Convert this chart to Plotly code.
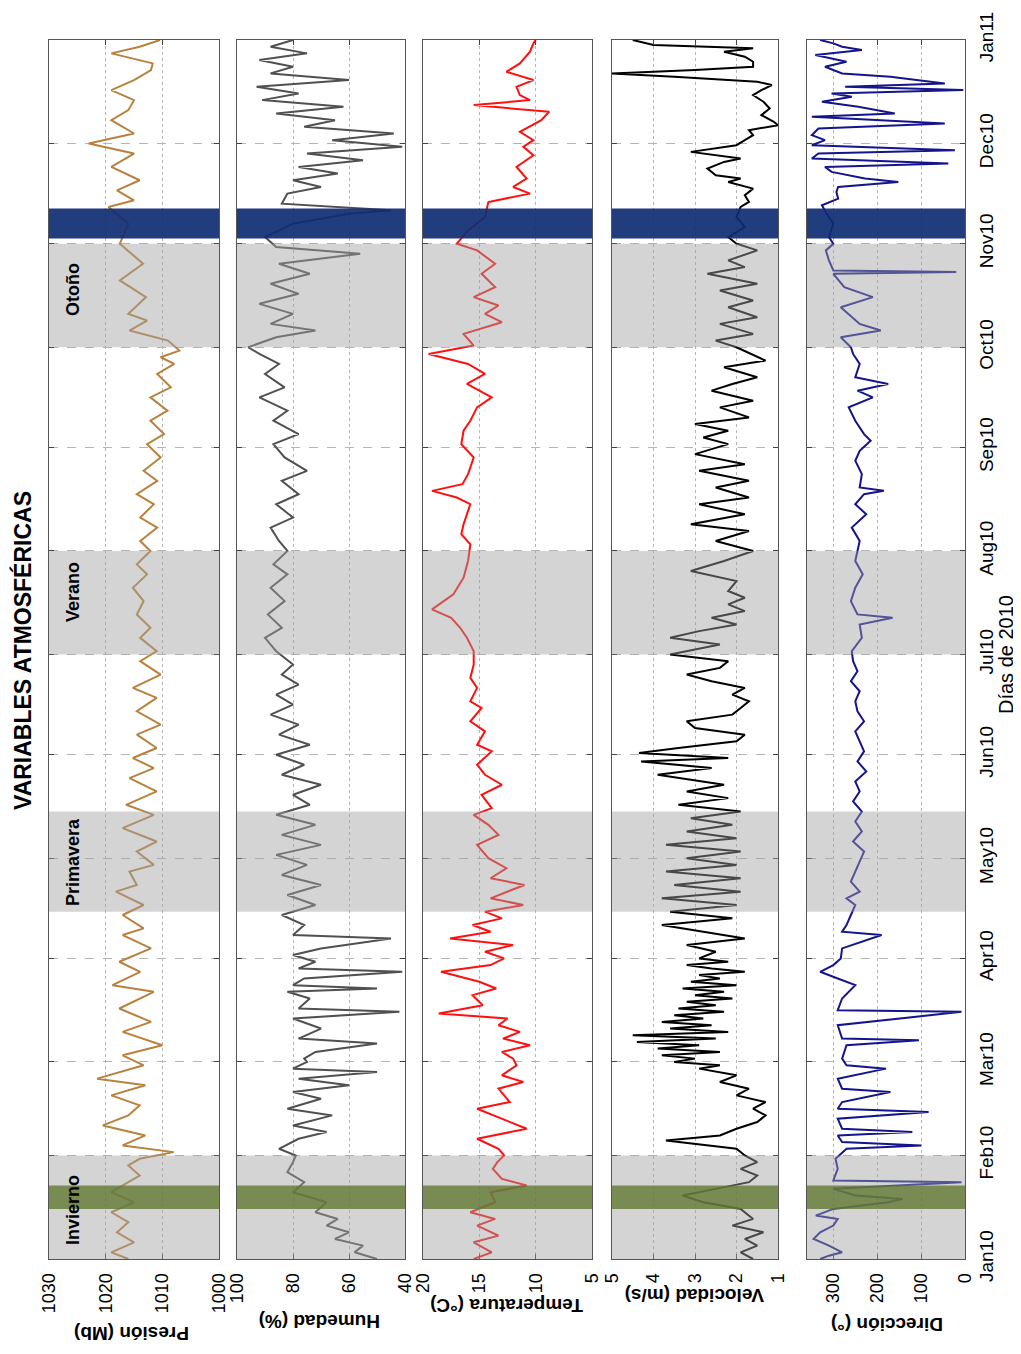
import plotly.graph_objects as go
import pandas as pd

# ---------------- data: day of year 2010 -> value ----------------
pres_days = ([0, 2, 5, 8, 11, 14, 17, 20, 23, 25, 28, 30] +
             [32, 34, 37, 40, 43, 46, 49, 52, 54, 58] +
             [61, 64, 68, 71, 75, 80, 82, 86, 89] +
             [93, 97, 99, 103, 106, 110, 112, 116, 118] +
             [122, 125, 129, 133, 136, 140, 144, 147, 150] +
             [153, 157, 160, 164, 168, 171, 175, 179] +
             [182, 186, 189, 193, 197, 201, 205, 208] +
             [212, 215, 219, 222, 226, 229, 233, 236, 240] +
             [244, 247, 251, 254, 258, 261, 265, 268, 270, 272] +
             [275, 278, 281, 283, 288, 293, 298] +
             [304, 310, 315, 317, 320, 323, 327, 331] +
             [334, 337, 341, 344, 347, 350, 353, 356, 358, 361, 363, 365])
pres_vals = ([1016, 1019, 1015, 1018, 1016, 1019, 1015, 1019, 1016, 1014, 1016, 1014] +
             [1008, 1017, 1013, 1020.5, 1016, 1014, 1019, 1013, 1021.5, 1013.3] +
             [1017, 1010, 1017, 1012, 1017.6, 1011.5, 1018.8, 1013.9, 1017.6] +
             [1012, 1017, 1013.3, 1017, 1013.3, 1018.2, 1014.5, 1015.8, 1011.5] +
             [1014.5, 1011, 1017, 1011.5, 1016.4, 1011, 1015.8, 1011.5, 1015.2] +
             [1011, 1014.5, 1010.3, 1014.5, 1011, 1015.2, 1010.3, 1013.9] +
             [1011, 1013.9, 1012.1, 1014.5, 1013.3, 1015.2, 1012.7, 1014.5] +
             [1012.1, 1013.9, 1010.9, 1013.9, 1011.5, 1014.5, 1010.9, 1013.3, 1010.3] +
             [1012.7, 1009.7, 1012.1, 1009.1, 1012.1, 1008.5, 1010.9, 1007.9, 1010.3, 1007] +
             [1009, 1015.8, 1012.7, 1016, 1012.9, 1017.5, 1013.4] +
             [1017.5, 1016, 1019.5, 1015, 1018, 1014, 1019, 1015] +
             [1023, 1015, 1019, 1016, 1015, 1019, 1015, 1012, 1011.7, 1019, 1014, 1010.4])

hum_days = ([0, 2, 4, 6, 8, 10, 12, 14, 17, 20, 23, 26, 29, 31] +
            [33, 36, 38, 40, 43, 45, 48, 50, 52, 54, 56, 57, 59] +
            [60, 62, 64.5, 66, 69, 72, 74, 75, 78, 80, 81, 82, 84, 86, 87, 89] +
            [91, 93, 96, 97, 100, 103, 106, 109, 112, 115, 118] +
            [121, 124, 127, 130, 133, 136, 139, 142, 145, 148] +
            [151, 154, 157, 160, 163, 166, 169, 172, 175, 178] +
            [182, 186, 189, 193, 197, 201, 205, 208] +
            [212, 215, 219, 222, 226, 229, 233, 236, 240] +
            [244, 247, 251, 254, 258, 261, 265, 268, 271] +
            [273, 276, 278, 280, 283, 286, 289, 292, 295, 298, 301, 303] +
            [306, 310, 313, 314, 316, 319, 321, 323, 325, 327, 329, 331, 333] +
            [335, 337, 339, 341, 343, 345, 347, 349, 351, 353, 355, 357, 359, 361, 363, 365])
hum_vals = ([50, 58, 55, 65, 60, 68, 64, 72, 68, 80, 76, 82, 80, 79] +
            [85, 78, 68, 80, 66, 82, 70, 80, 60, 78, 50, 80, 75] +
            [76, 72, 50, 78, 70, 80, 42, 78, 74, 82, 50, 80, 76, 41, 78, 72] +
            [80, 70, 45, 80, 76, 84, 72, 82, 70, 84, 75] +
            [86, 70, 84, 72, 86, 74, 80, 70, 84, 76] +
            [86, 74, 85, 78, 88, 80, 86, 78, 84, 80] +
            [86, 90, 84, 89, 83, 88, 82, 87] +
            [82, 85, 88, 80, 86, 78, 84, 75, 83] +
            [87, 78, 87, 82, 92, 83, 90, 85, 92] +
            [96, 86, 72, 88, 80, 92, 78, 88, 74, 85, 56, 86] +
            [90, 80, 60, 45, 84, 82, 70, 80, 64, 78, 55, 75, 41] +
            [66, 44, 76, 65, 86, 62, 91, 78, 93, 60, 88, 80, 92, 75, 88, 80])

temp_days = ([0, 2, 5, 7, 10, 12, 14, 17, 20, 22, 24, 27, 29, 31] +
             [33, 36, 39, 42, 45, 47, 51, 53, 55, 58] +
             [60, 62, 64, 66, 68, 70, 72, 73.5, 76, 79, 81, 83, 86, 88] +
             [90, 92, 94, 96, 98, 100, 102, 104, 106, 108, 110, 112, 114, 117] +
             [120, 124, 127, 130, 133, 135, 139, 142, 145, 148] +
             [152, 154, 158, 161, 165, 167, 171, 174, 178] +
             [182, 186, 189, 192, 194.5, 199, 204, 209] +
             [214, 217, 220, 226, 228, 230, 232, 235, 240] +
             [244, 248, 251, 255, 258, 262, 265, 268, 271] +
             [273.5, 277, 280.5, 283, 285.5, 288, 291, 295, 298, 302] +
             [304, 308, 312, 316.5, 319, 321, 323.5, 327, 330.5, 333] +
             [335, 337.5, 341, 343.5, 345.5, 347, 348.5, 351, 353, 355.5, 358, 361.5, 364, 365])
temp_vals = ([15.5, 13.9, 15.5, 13.3, 15.2, 13.6, 15.8, 13.6, 14, 10.8, 13, 13.8, 13.4, 12.8] +
             [13.3, 15.2, 10.8, 13, 15.2, 12.3, 13.3, 11.1, 13, 11.7] +
             [12, 13, 10.5, 12.9, 11.4, 13.3, 12.5, 18.6, 14.7, 15.6, 13.5, 15, 18.4, 14] +
             [12.8, 14.5, 12, 17.6, 14, 15.6, 13, 14.5, 11.1, 14, 12.5, 11, 14, 12.6] +
             [14.2, 15.2, 13.3, 14.2, 15.5, 13.9, 14.8, 13, 14.5, 15.2] +
             [13.9, 15.2, 14.5, 15.8, 14.8, 15.8, 15.2, 15.8, 15.5] +
             [15.5, 16.1, 16.7, 17.5, 19.2, 17.3, 16.4, 16] +
             [15.8, 16.6, 16.4, 15.8, 17, 19.2, 16.5, 16, 15.5] +
             [16.6, 16.4, 15.8, 15.2, 13.9, 16.1, 14.5, 16, 19.5] +
             [15.5, 16.4, 13, 14.5, 13.3, 15.5, 13.6, 14.8, 13.6, 15.2] +
             [17, 16, 14.5, 14.2, 10.5, 12, 10.8, 11.7, 10.2, 11.1] +
             [10.2, 11.4, 9.5, 8.8, 15.5, 10.5, 11.4, 11.7, 10.2, 12.6, 11.4, 10.5, 10.2, 10])

vel_days = ([0, 2, 4, 6, 8, 10, 12, 15, 17, 19, 21, 23, 25, 27, 29, 31] +
            [33, 35.5, 37, 39, 41, 43, 45, 47, 49, 51, 53, 55, 57, 58, 59] +
            [60, 61, 62, 63, 64, 65, 66, 67, 68, 69, 70, 71, 72, 73, 74, 75, 76, 77, 78, 79, 80,
             81, 82, 83, 84, 85, 86, 87, 88, 89, 90] +
            [92, 94, 96, 98, 100, 102, 104, 106, 108, 110, 112, 114, 116, 118, 120] +
            [122, 124, 126, 128, 130, 132, 134, 136, 138, 140, 142, 145, 147, 149, 150] +
            [151.5, 153, 155, 157, 159, 161, 163, 165, 167, 169, 171, 173, 175, 177, 179, 181] +
            [184, 186, 188, 190, 192, 194, 196, 198, 200, 203, 206, 209, 212] +
            [215, 218, 220, 223, 226, 228, 231, 233, 236, 238, 241] +
            [244, 246, 248, 250, 252, 255, 257, 260, 262, 264, 267, 269] +
            [273, 275, 277, 280, 282, 285, 287, 290, 292, 295, 297, 299, 302] +
            [304, 306, 309, 312, 315, 316.5, 318.5, 320.5, 322.5, 323.5, 324.5, 326.5, 328.5,
             329.5, 331.5] +
            [333.5, 335, 336.5, 338, 339.5, 340.5, 342.5, 344.5, 346.5, 348.5, 350, 351.5, 352.5,
             354, 355, 356, 357, 358.5, 360, 361.5, 362.5, 363.5, 365])
vel_vals = ([1.6, 1.9, 1.5, 1.8, 1.35, 2.1, 1.6, 1.9, 2.8, 3.3, 2.5, 1.7, 1.5, 1.9, 1.5, 1.8] +
            [2.0, 3.7, 2.4, 2.0, 1.5, 1.3, 1.6, 1.3, 2.0, 1.7, 2.4, 2.0, 2.9, 2.4, 3.5] +
            [3.0, 3.8, 2.4, 3.9, 2.9, 4.4, 2.5, 4.5, 2.2, 3.6, 2.6, 3.8, 2.8, 3.5, 2.3, 3.4, 2.5,
             3.2, 2.1, 3.0, 2.3, 3.3, 2.0, 3.1, 2.4, 2.9, 1.8, 2.6, 3.2, 2.2, 2.9] +
            [2.5, 3.2, 1.8, 2.8, 3.8, 2.1, 3.6, 2.0, 3.8, 1.9, 3.5, 1.9, 3.7, 2.0, 3.2] +
            [1.9, 3.7, 2.0, 3.2, 2.1, 3.1, 1.9, 3.4, 2.2, 3.2, 2.3, 3.9, 2.6, 4.3, 2.2] +
            [4.35, 3.4, 2.0, 1.8, 3.0, 3.2, 2.1, 1.9, 1.7, 2.1, 1.8, 2.6, 3.2, 2.4, 2.2, 3.6] +
            [2.4, 3.6, 2.9, 2.0, 2.6, 1.8, 2.2, 1.8, 2.2, 2.0, 3.1, 2.3, 1.6] +
            [2.5, 1.7, 3.1, 1.8, 2.9, 1.7, 2.5, 1.7, 2.9, 1.8, 3.0] +
            [2.2, 2.8, 2.2, 3.0, 1.7, 2.4, 1.6, 2.6, 2.1, 1.5, 2.3, 1.3] +
            [2.0, 2.5, 1.6, 2.4, 1.5, 2.2, 1.6, 2.4, 1.5, 2.7, 1.8, 2.2, 1.5] +
            [2.0, 2.2, 1.8, 2.0, 1.9, 1.7, 1.8, 1.6, 2.2, 1.9, 2.5, 2.7, 2.3, 1.9, 3.1] +
            [2.0, 1.8, 1.6, 1.7, 1.0, 1.1, 1.4, 1.2, 1.35, 1.6, 1.4, 1.15, 1.5, 3.5, 5.0, 3.0,
             1.6, 1.6, 1.8, 2.3, 1.6, 4.0, 4.5])

dir_days = ([0, 1, 2, 4, 6, 8, 10, 12, 13, 15, 17, 18, 19, 21, 23, 23.5, 27, 30] +
            [33, 34, 35, 37, 38, 39, 42, 44, 45, 47, 50, 51, 54, 57, 58] +
            [60, 64, 65.5, 66, 70, 74, 74.5, 78, 82, 84, 86, 88] +
            [90, 93, 97, 98, 100, 103, 106, 108, 110, 113, 116, 119] +
            [122, 125, 128, 131, 134, 137, 140, 143, 146, 149] +
            [152, 155, 158, 161, 164, 167, 170, 173, 176, 179] +
            [182, 186, 190, 192, 193, 197, 201, 205, 209, 212] +
            [215, 219, 223, 226, 229, 230, 231, 235, 239, 242] +
            [245, 247, 251, 255, 258, 260, 262, 264, 268, 271] +
            [273, 276, 278, 280, 283, 285, 288, 291, 295, 295.5, 296, 299, 302] +
            [304, 306, 310, 313, 315.5, 317.5, 319.5, 321, 322.5, 323.5, 325.5, 327, 328, 329.5,
             331, 332] +
            [333.5, 335, 336.5, 338.5, 340, 342, 343, 345, 346.5, 348, 349, 350, 351, 352, 354,
             355, 357, 358.5, 360.5, 362, 363, 364, 365])
dir_vals = ([330, 310, 280, 310, 345, 330, 300, 290, 340, 300, 175, 142, 250, 300, 8, 300, 290, 295] +
            [270, 100, 280, 290, 120, 280, 290, 83, 290, 280, 170, 280, 290, 180, 270] +
            [280, 270, 105, 280, 290, 8, 290, 280, 250, 290, 330, 300] +
            [283, 280, 190, 280, 270, 260, 250, 270, 240, 260, 250, 240] +
            [230, 255, 235, 250, 235, 255, 240, 250, 225, 245] +
            [230, 240, 250, 230, 245, 250, 240, 260, 245, 255] +
            [258, 235, 240, 165, 245, 260, 250, 233, 250, 245] +
            [240, 258, 225, 250, 230, 185, 240, 235, 250, 240] +
            [215, 230, 250, 265, 210, 245, 175, 250, 240, 255] +
            [260, 283, 192, 240, 267, 283, 210, 275, 300, 20, 300, 310, 317] +
            [300, 310, 300, 315, 326, 289, 293, 289, 152, 228, 304, 319, 38, 349, 334, 23] +
            [349, 319, 349, 334, 46, 349, 160, 243, 326, 258, 304, 4, 273, 46, 170, 280, 319, 270,
             341, 235, 280, 300, 330])

month_ticks = ['2010-01-01', '2010-02-01', '2010-03-01', '2010-04-01', '2010-05-01', '2010-06-01',
               '2010-07-01', '2010-08-01', '2010-09-01', '2010-10-01', '2010-11-01', '2010-12-01',
               '2011-01-01']
month_labels = ['Jan10', 'Feb10', 'Mar10', 'Apr10', 'May10', 'Jun10', 'Jul10', 'Aug10', 'Sep10',
                'Oct10', 'Nov10', 'Dec10', 'Jan11']

seasons = ['Invierno', 'Primavera', 'Verano', 'Otoño']
season_start = ['2010-01-01', '2010-04-15', '2010-07-01', '2010-10-01']
season_end = ['2010-02-01', '2010-05-15', '2010-08-01', '2010-11-01']
green_band = ['2010-01-16', '2010-01-23']
blue_band = ['2010-11-02 14:00', '2010-11-11 14:00']

panel_titles = ['Presión (Mb)', 'Humedad (%)', 'Temperatura (°C)', 'Velocidad (m/s)', 'Dirección (°)']
panel_ranges = [[1030, 1000], [100, 40], [20, 5], [5, 1], [360, 0]]
panel_ticks = [[1000, 1010, 1020, 1030], [40, 60, 80, 100], [5, 10, 15, 20], [1, 2, 3, 4, 5],
               [0, 100, 200, 300]]
line_colors = ['#b8823e', '#505050', '#ff1010', '#000000', '#14148c']

series = [(pres_days, pres_vals), (hum_days, hum_vals), (temp_days, temp_vals),
          (vel_days, vel_vals), (dir_days, dir_vals)]
for d, v in series:
    assert len(d) == len(v)

# ---------------- layout geometry (page has an 8px body margin) ----------------
OFF = 8
W, H = 1021 - OFF, 1354 - OFF
def fx(p):
    return (p - OFF) / W
def fy(p):
    return 1 - (p - OFF) / H

panel_px = [(49, 219), (237, 405), (423, 592), (612, 778), (807, 965)]
top_px, bot_px = 40, 1259
title_pos = [(132, 1334), (320, 1322), (507, 1306), (695, 1296), (887, 1325)]
season_label_y = [1210, 862, 592, 290]

base = pd.Timestamp('2010-01-01')
def to_dates(days):
    return [base + pd.Timedelta(days=float(d)) for d in days]

fig = go.Figure()
FONT = 'Liberation Sans, Arial, sans-serif'

for i, (days, vals) in enumerate(series):
    k = i + 1
    sfx = '' if k == 1 else str(k)
    xname, yname = 'x' + sfx, 'y' + sfx
    fig.add_trace(go.Scatter(x=vals, y=to_dates(days), mode='lines',
                             line=dict(color=line_colors[i], width=2),
                             xaxis=xname, yaxis=yname, showlegend=False,
                             hoverinfo='skip'))
    x0, x1 = panel_px[i]
    fig.update_layout(**{
        'xaxis' + sfx: dict(domain=[fx(x0), fx(x1)], range=panel_ranges[i], automargin=False,
                            tickvals=panel_ticks[i], tickangle=-90,
                            ticks='inside', ticklen=5, tickcolor='#444',
                            showline=True, linecolor='#555', linewidth=1, mirror='ticks',
                            showgrid=True, gridcolor='#b5b5b5', griddash='dot', gridwidth=1,
                            zeroline=False, anchor=yname, ticklabelstandoff=6,
                            tickfont=dict(size=18, color='black', family=FONT)),
        'yaxis' + sfx: dict(domain=[fy(bot_px), fy(top_px)], type='date', automargin=False,
                            range=['2010-01-01', '2011-01-01'],
                            tickvals=month_ticks, ticktext=month_labels,
                            showticklabels=(k == 5), side='right' if k == 5 else 'left',
                            tickangle=-90, ticks='inside', ticklen=5, tickcolor='#444',
                            showline=True, linecolor='#555', linewidth=1, mirror='ticks',
                            showgrid=True, gridcolor='#b5b5b5', griddash='dash', gridwidth=1,
                            zeroline=False, anchor=xname,
                            ticklabelstandoff=4,
                            tickfont=dict(size=19, color='black', family=FONT)),
    })
    for s0, s1 in zip(season_start, season_end):
        fig.add_shape(type='rect', xref=xname + ' domain', yref=yname, x0=0, x1=1, y0=s0, y1=s1,
                      fillcolor='rgb(160,160,160)', opacity=0.45, line=dict(width=0),
                      layer='above')
    fig.add_shape(type='rect', xref=xname + ' domain', yref=yname, x0=0, x1=1,
                  y0=green_band[0], y1=green_band[1],
                  fillcolor='rgb(95,120,50)', opacity=0.8, line=dict(width=0), layer='above')
    fig.add_shape(type='rect', xref=xname + ' domain', yref=yname, x0=0, x1=1,
                  y0=blue_band[0], y1=blue_band[1],
                  fillcolor='rgb(15,45,115)', opacity=0.92, line=dict(width=0), layer='above')
    tx, ty = title_pos[i]
    fig.add_annotation(x=fx(tx), y=fy(ty), xref='paper', yref='paper', showarrow=False,
                       xanchor='center', yanchor='middle',
                       text=f'<b>{panel_titles[i]}</b>', textangle=180,
                       font=dict(size=19, color='black', family=FONT))

for name, yc in zip(seasons, season_label_y):
    fig.add_annotation(x=fx(73), y=fy(yc), xref='paper', yref='paper', showarrow=False,
                       xanchor='center', yanchor='middle',
                       text=f'<b>{name}</b>', textangle=-90,
                       font=dict(size=18, color='black', family=FONT))

fig.add_annotation(x=fx(22), y=fy(651), xref='paper', yref='paper', showarrow=False,
                   xanchor='center', yanchor='middle',
                   text='<b>VARIABLES ATMOSFÉRICAS</b>', textangle=-90,
                   font=dict(size=23, color='black', family=FONT))
fig.add_annotation(x=fx(1006), y=fy(655), xref='paper', yref='paper', showarrow=False,
                   xanchor='center', yanchor='middle',
                   text='Días de 2010', textangle=-90,
                   font=dict(size=20, color='black', family=FONT))

fig.update_layout(template='none', width=W, height=H, margin=dict(l=0, r=0, t=0, b=0),
                  paper_bgcolor='white', plot_bgcolor='white', showlegend=False)

fig.write_html('out.html')
